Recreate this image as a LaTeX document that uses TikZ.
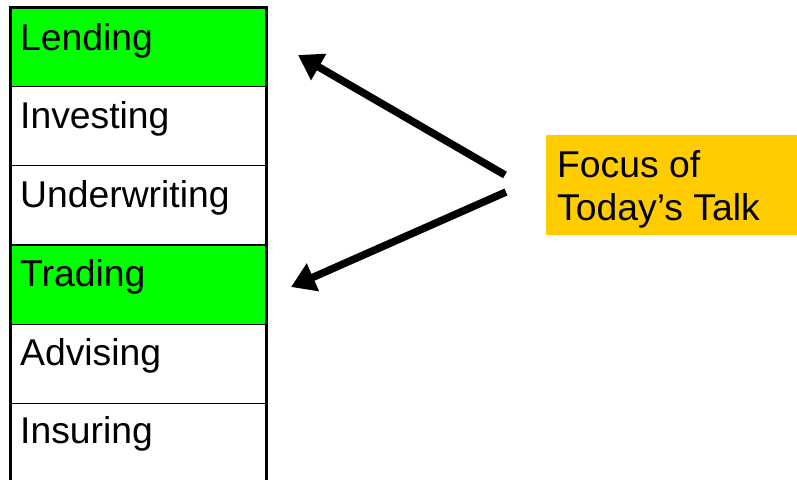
\documentclass[tikz,border=0pt]{standalone}
\usepackage{fontspec}
\setmainfont{Liberation Sans}
\usetikzlibrary{arrows.meta}
\definecolor{rowgreen}{HTML}{00FF00}
\definecolor{focusyellow}{HTML}{FFCC00}
\tikzset{
  rowbox/.style={rectangle, draw=black, line width=1.3pt, minimum width=256.5pt, minimum height=79.3pt, anchor=north west, inner sep=0pt, outer sep=0pt},
  rowtext/.style={anchor=base west, inner sep=0pt, font=\fontsize{37.3}{43}\selectfont},
  bigarrow/.style={line width=7.5pt, -{Triangle[length=24pt,width=29pt]}},
}
\begin{document}
\begin{tikzpicture}[x=1pt,y=-1pt]
\useasboundingbox (0,0) rectangle (797,479);
\clip (0,0) rectangle (797,479);
% rows
\node[rowbox, fill=rowgreen] (r1) at (10,7) {};
\node[rowbox, fill=white] (r2) at (10,86.3) {};
\node[rowbox, fill=white] (r3) at (10,165.6) {};
\node[rowbox, fill=rowgreen] (r4) at (10,244.9) {};
\node[rowbox, fill=white] (r5) at (10,324.2) {};
\node[rowbox, fill=white] (r6) at (10,403.5) {};
\draw[line width=3pt] (r1.north west) rectangle (r6.south east);
\node[rowtext] (t1) at ([shift={(10,43)}]r1.north west) {Lending};
\node[rowtext] (t2) at ([shift={(10,42)}]r2.north west) {Investing};
\node[rowtext] (t3) at ([shift={(10,42)}]r3.north west) {Underwriting};
\node[rowtext] (t4) at ([shift={(10,42)}]r4.north west) {Trading};
\node[rowtext] (t5) at ([shift={(10,41)}]r5.north west) {Advising};
\node[rowtext] (t6) at ([shift={(10,40)}]r6.north west) {Insuring};
% focus box
\node[rectangle, fill=focusyellow, minimum width=251pt, minimum height=100pt, anchor=north west, inner sep=0pt] (focus) at (546,135) {};
\node[rowtext, align=left] (ft) at (557,220) {Focus of\\Today’s Talk};
% arrows
\coordinate (a1s) at (505,175);
\coordinate (a1e) at (298,55);
\coordinate (a2s) at (506,192);
\coordinate (a2e) at (291,287);
\draw[bigarrow] (a1s) -- (a1e);
\draw[bigarrow] (a2s) -- (a2e);
\end{tikzpicture}
\end{document}
